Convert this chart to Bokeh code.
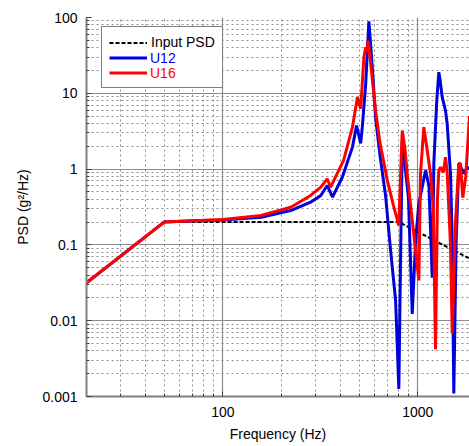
from bokeh.plotting import figure
from bokeh.models import FixedTicker, Legend, LegendItem, Range1d
from bokeh.core.properties import value
from bokeh.embed import file_html
from bokeh.resources import INLINE

# ---- data ----
input_freq = [20, 50, 800, 1840]
input_psd = [0.0316, 0.200, 0.200, 0.066]

u12_freq = [20, 50, 77, 100, 157, 223, 282, 318, 343, 365, 410, 462, 485, 509, 519, 540,
            561, 584, 607, 640, 683, 725, 769, 799, 815, 832, 895, 936, 975, 1012, 1095,
            1140, 1185, 1208, 1250, 1281, 1300, 1333, 1386, 1414, 1470, 1500, 1529, 1570,
            1622, 1680, 1720, 1790, 1840]
u12_psd = [0.0316, 0.200, 0.210, 0.213, 0.232, 0.284, 0.366, 0.449, 0.608, 0.426, 0.78,
           1.95, 3.76, 2.18, 3.57, 13.0, 89.0, 22.0, 4.8, 1.5, 0.449, 0.084, 0.0185,
           0.00126, 0.06, 2.38, 0.42, 0.0123, 0.12, 0.35, 0.96, 0.6, 0.037, 1.2, 8.0,
           19.0, 15.0, 8.9, 5.9, 3.96, 0.87, 0.12, 0.0011, 0.1, 1.17, 1.0, 0.87, 1.06, 1.0]

u16_freq = [20, 50, 77, 100, 157, 223, 282, 318, 343, 357, 416, 462, 490, 509, 529, 540,
            548, 555, 566, 607, 640, 697, 750, 799, 815, 832, 860, 882, 936, 1012, 1032,
            1073, 1117, 1161, 1200, 1232, 1260, 1281, 1307, 1350, 1386, 1414, 1470, 1500,
            1560, 1622, 1654, 1700, 1760, 1840]
u16_psd = [0.0316, 0.200, 0.210, 0.216, 0.244, 0.314, 0.449, 0.577, 0.745, 0.577, 1.30,
           3.57, 8.9, 6.25, 29.9, 40.5, 35.0, 49.7, 33.5, 5.9, 2.2, 0.71, 0.33, 0.18, 0.8,
           3.23, 1.8, 0.87, 0.21, 0.034, 0.87, 3.57, 1.76, 0.87, 0.3, 0.0042, 0.4, 0.96,
           1.06, 0.9, 1.44, 0.9, 0.1, 0.0068, 0.2, 1.2, 1.17, 0.42, 0.8, 5.0]

x_major = [100, 1000]
x_major_labels = ["100", "1000"]
x_minor = [20, 30, 40, 50, 60, 70, 80, 90, 200, 300, 400, 500, 600, 700, 800, 900]
y_major = [0.001, 0.01, 0.1, 1, 10, 100]
y_major_labels = ["0.001", "0.01", "0.1", "1", "10", "100"]
y_minor = [m * d for d in [0.001, 0.01, 0.1, 1, 10] for m in range(2, 10)]

series_names = ["Input PSD", "U12", "U16"]
series_colors = ["#000000", "#0000dd", "#ff0000"]

FONT = "Liberation Sans"
GRID = "#8c8c8c"

p = figure(width=469, height=446, x_axis_type="log", y_axis_type="log",
           x_range=Range1d(20, 1840), y_range=Range1d(0.001, 100),
           output_backend="svg", toolbar_location=None,
           min_border_left=86, min_border_right=0, min_border_top=17, min_border_bottom=50)
p.outline_line_color = None
p.background_fill_color = "white"

# axes
p.xaxis.ticker = FixedTicker(ticks=x_major, minor_ticks=x_minor)
p.yaxis.ticker = FixedTicker(ticks=y_major, minor_ticks=y_minor)
p.xaxis.major_label_overrides = {v: s for v, s in zip(x_major, x_major_labels)}
p.yaxis.major_label_overrides = {v: s for v, s in zip(y_major, y_major_labels)}
for ax in (p.xaxis, p.yaxis):
    ax.axis_line_color = "#808080"
    ax.axis_line_width = 2
    ax.major_tick_out = 0
    ax.major_tick_in = 5
    ax.minor_tick_out = 0
    ax.minor_tick_in = 3
    ax.major_tick_line_color = "#404040"
    ax.minor_tick_line_color = "#404040"
    ax.major_label_text_font = FONT
    ax.major_label_text_font_size = "14px"
    ax.major_label_text_color = "black"
    ax.axis_label_text_font = FONT
    ax.axis_label_text_font_size = "14px"
    ax.axis_label_text_font_style = "normal"
    ax.axis_label_text_color = "black"
p.xaxis.axis_label = "Frequency (Hz)"
p.yaxis.axis_label = "PSD (g\u00b2/Hz)"
p.xaxis.major_label_standoff = 10
p.xaxis.axis_label_standoff = 6
p.yaxis.major_label_standoff = 9
p.yaxis.axis_label_standoff = 8

# grids
for g in (p.xgrid, p.ygrid):
    g.grid_line_color = GRID
    g.grid_line_width = 1.2
    g.minor_grid_line_color = GRID
    g.minor_grid_line_width = 1
    g.minor_grid_line_dash = "2 3"

# data
r_in = p.line(input_freq, input_psd, line_color=series_colors[0], line_width=2,
              line_dash="4 2")
r_12 = p.line(u12_freq, u12_psd, line_color=series_colors[1], line_width=3)
r_16 = p.line(u16_freq, u16_psd, line_color=series_colors[2], line_width=3)

# legend: box with glyphs, then coloured labels laid on top
PAD, ROW, SP = 7, 15, 0
LX, LTOP = 15, 367
common = dict(spacing=SP, glyph_width=38, glyph_height=ROW,
              label_height=ROW, label_standoff=4, margin=0,
              label_text_font=FONT, label_text_font_size="14px")
main = Legend(items=[LegendItem(label=series_names[0], renderers=[r_in]),
                     LegendItem(label=value(" "), renderers=[r_12]),
                     LegendItem(label=value("  "), renderers=[r_16])],
              location=(LX, LTOP - (2 * PAD + 3 * ROW + 2 * SP)), padding=PAD,
              border_line_color="black", border_line_width=1,
              background_fill_color="white", background_fill_alpha=1,
              label_text_color=series_colors[0], **common)
p.add_layout(main)
for i in (1, 2):
    dummy = p.line([], [], line_alpha=0)
    row_top = LTOP - PAD - i * (ROW + SP)
    lg = Legend(items=[LegendItem(label=series_names[i], renderers=[dummy])],
                location=(LX + PAD, row_top - ROW), padding=0,
                border_line_color=None, background_fill_alpha=0,
                label_text_color=series_colors[i], **common)
    p.add_layout(lg)

open("out.html", "w").write(file_html(p, INLINE))
